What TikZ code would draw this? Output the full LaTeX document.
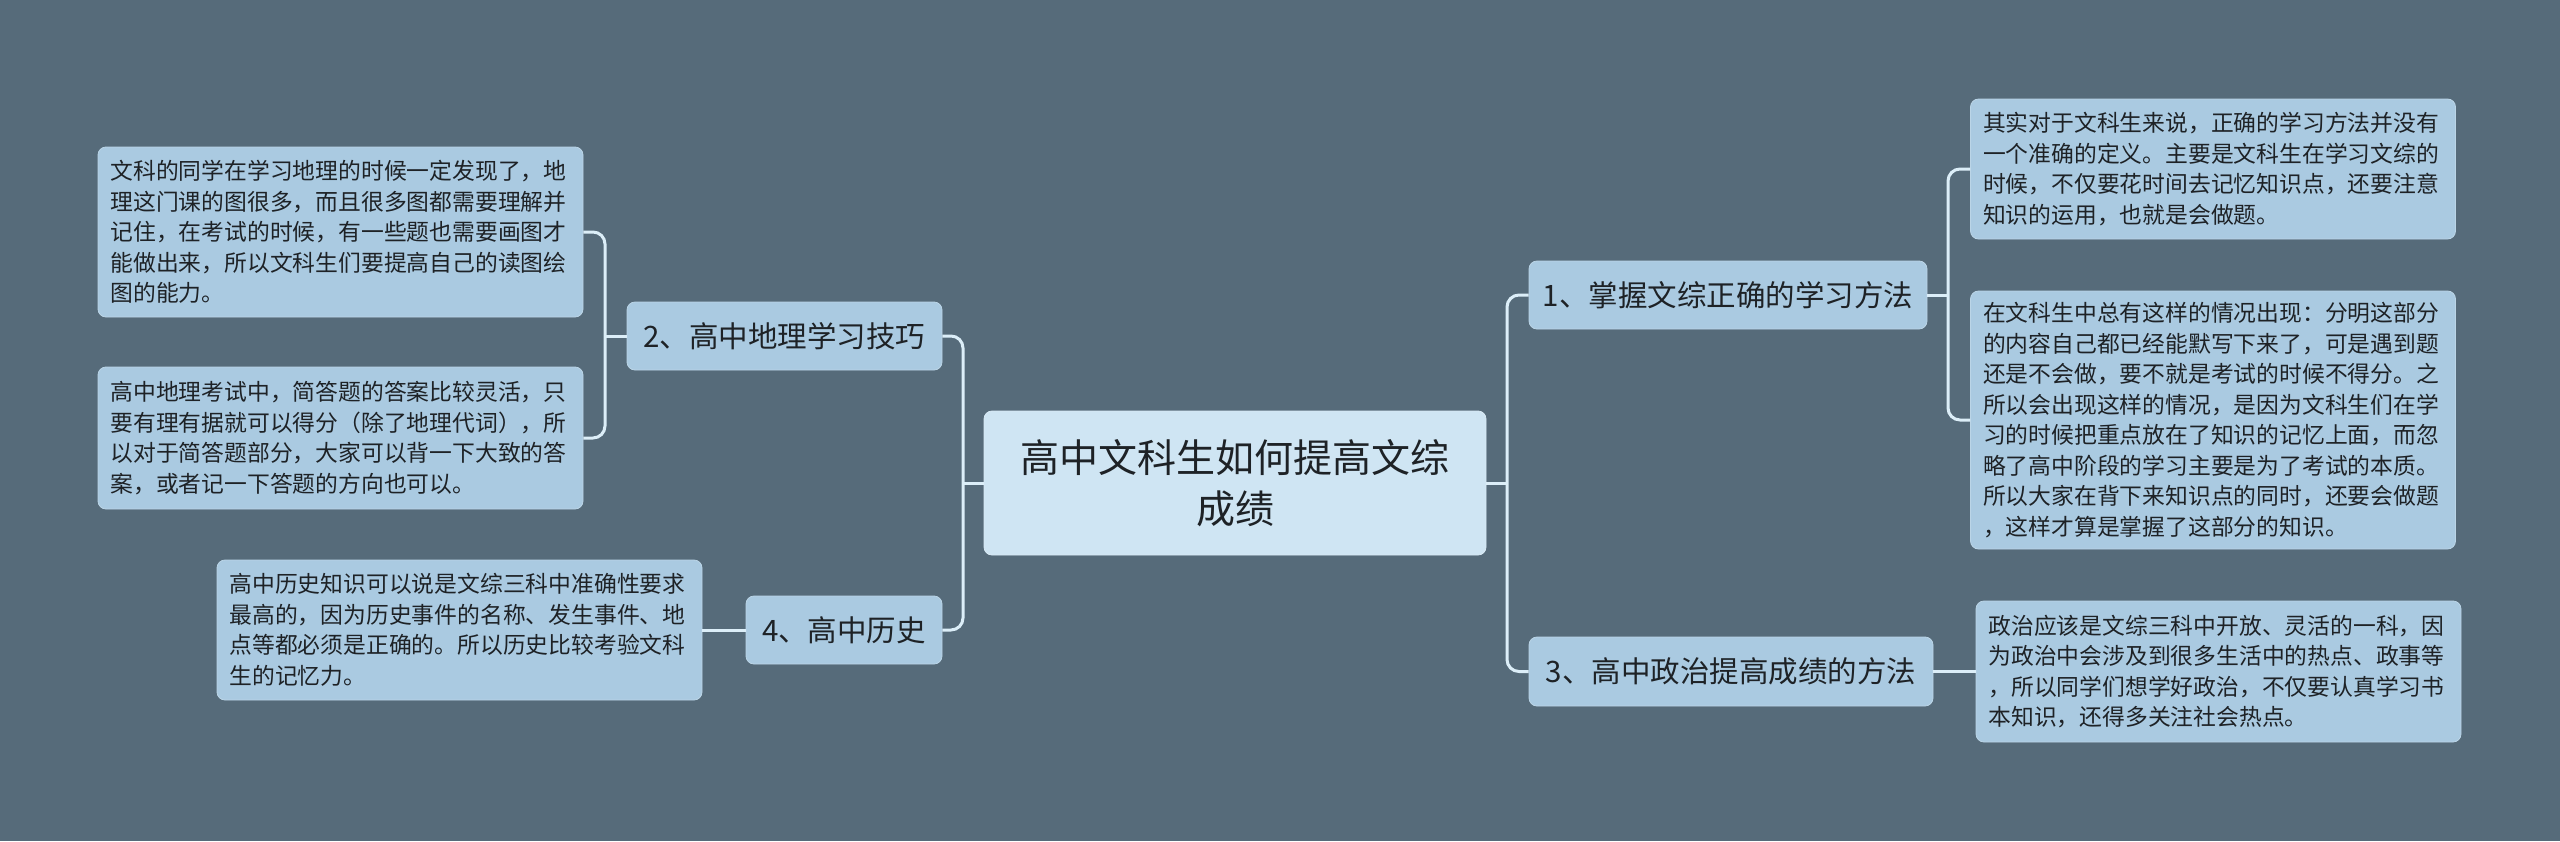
\documentclass[tikz,border=0pt]{standalone}
\usepackage{fontspec}
\setmainfont{Noto Sans CJK SC}
\definecolor{bgc}{HTML}{566B7A}
\definecolor{leafc}{HTML}{AACAE1}
\definecolor{rootc}{HTML}{CFE5F3}
\definecolor{connc}{HTML}{DCEEF8}
\definecolor{textc}{HTML}{1E2226}
\tikzset{
  box/.style={rounded corners=8pt, fill=leafc, draw=leafc!80!white, line width=0.8pt, inner sep=0pt, text=textc},
  leaf/.style={box, font=\fontsize{22.8pt}{30.5pt}\selectfont, align=left, text width=460pt, inner xsep=12.5pt},
  topic/.style={box, font=\fontsize{29.5pt}{36pt}\selectfont, align=center, minimum height=68pt},
  rootbox/.style={box, fill=rootc, draw=rootc!80!white, font=\fontsize{39pt}{51pt}\selectfont, align=center, minimum width=502pt, minimum height=144pt},
  conn/.style={draw=connc, line width=3pt, rounded corners=12pt}
}
\begin{document}
\begin{tikzpicture}[x=1pt,y=-1pt]
\useasboundingbox (0,0) rectangle (2560,841);
\fill[bgc] (0,0) rectangle (2560,841);

\node[rootbox] (root) at (1235,483) {高中文科生如何提高文综\\成绩};

\node[topic, minimum width=315pt] (n2) at (784.5,336) {2、高中地理学习技巧};
\node[topic, minimum width=196pt] (n4) at (844,630) {4、高中历史};
\node[topic, minimum width=398pt] (n1) at (1728,295) {1、掌握文综正确的学习方法};
\node[topic, minimum width=404pt, minimum height=69pt] (n3) at (1731,671.5) {3、高中政治提高成绩的方法};

\node[leaf, minimum height=170pt] (la) at (340.5,232) {文科的同学在学习地理的时候一定发现了，地\\理这门课的图很多，而且很多图都需要理解并\\记住，在考试的时候，有一些题也需要画图才\\能做出来，所以文科生们要提高自己的读图绘\\图的能力。};
\node[leaf, minimum height=142pt] (lb) at (340.5,438) {高中地理考试中，简答题的答案比较灵活，只\\要有理有据就可以得分（除了地理代词），所\\以对于简答题部分，大家可以背一下大致的答\\案，或者记一下答题的方向也可以。};
\node[leaf, minimum height=140pt] (lc) at (459.5,630) {高中历史知识可以说是文综三科中准确性要求\\最高的，因为历史事件的名称、发生事件、地\\点等都必须是正确的。所以历史比较考验文科\\生的记忆力。};
\node[leaf, minimum height=140pt] (ld) at (2213,169) {其实对于文科生来说，正确的学习方法并没有\\一个准确的定义。主要是文科生在学习文综的\\时候，不仅要花时间去记忆知识点，还要注意\\知识的运用，也就是会做题。};
\node[leaf, minimum height=258pt] (le) at (2213,420) {在文科生中总有这样的情况出现：分明这部分\\的内容自己都已经能默写下来了，可是遇到题\\还是不会做，要不就是考试的时候不得分。之\\所以会出现这样的情况，是因为文科生们在学\\习的时候把重点放在了知识的记忆上面，而忽\\略了高中阶段的学习主要是为了考试的本质。\\所以大家在背下来知识点的同时，还要会做题\\，这样才算是掌握了这部分的知识。};
\node[leaf, minimum height=141pt] (lf) at (2218.5,671.5) {政治应该是文综三科中开放、灵活的一科，因\\为政治中会涉及到很多生活中的热点、政事等\\，所以同学们想学好政治，不仅要认真学习书\\本知识，还得多关注社会热点。};

\coordinate (jL) at (963,483);
\coordinate (jR) at (1507,483);
\coordinate (j2) at (605,336);
\coordinate (j1) at (1948,295);

\draw[conn] (n2.east) -| (jL) |- (n4.east);
\draw[conn] (jL) -- (root.west);
\draw[conn] (n1.west) -| (jR) |- (n3.west);
\draw[conn] (jR) -- (root.east);
\draw[conn] (la.east) -| (j2) |- (lb.east);
\draw[conn] (j2) -- (n2.west);
\draw[conn] (lc.east) -- (n4.west);
\draw[conn] (ld.west) -| (j1) |- (le.west);
\draw[conn] (j1) -- (n1.east);
\draw[conn] (n3.east) -- (lf.west);
\end{tikzpicture}
\end{document}
